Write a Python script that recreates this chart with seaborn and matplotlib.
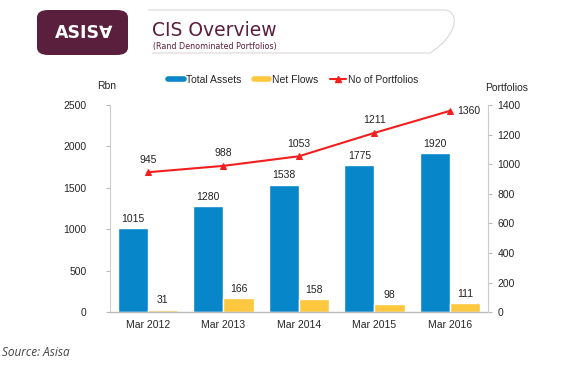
import numpy as np
import pandas as pd
import matplotlib.pyplot as plt
import seaborn as sns
from matplotlib.patches import FancyBboxPatch, PathPatch
from matplotlib.path import Path

years = ['Mar 2012', 'Mar 2013', 'Mar 2014', 'Mar 2015', 'Mar 2016']
total_assets = [1015, 1280, 1538, 1775, 1920]
net_flows = [31, 166, 158, 98, 111]
portfolios = [945, 988, 1053, 1211, 1360]

blue = '#0787c9'
yellow = '#fdc73e'
red = '#f41e1e'
maroon = '#5b1f3e'

df = pd.DataFrame({
    'year': years * 2,
    'value': total_assets + net_flows,
    'series': ['Total Assets'] * len(years) + ['Net Flows'] * len(years),
})

sns.set_style('white')
plt.rcParams['font.family'] = ['Liberation Sans', 'DejaVu Sans']

fig = plt.figure(figsize=(5.64, 3.72), dpi=100)
ax = fig.add_axes([0.195, 0.161, 0.670, 0.557])

sns.barplot(data=df, x='year', y='value', hue='series', ax=ax,
            palette=[blue, yellow], width=0.8, saturation=1, legend=False)
for cont in ax.containers:
    ax.bar_label(cont, padding=3, fontsize=7.5, color='#222222')

ax.set_ylim(0, 2500)
ax.set_yticks(range(0, 2501, 500))
ax.set_xlabel('')
ax.set_ylabel('')
ax.tick_params(axis='y', labelsize=7.5, length=3, color='#bbbbbb', pad=14)
ax.tick_params(axis='x', labelsize=7.5, length=0, pad=6)
for s in ['top', 'right']:
    ax.spines[s].set_visible(False)
ax.spines['left'].set_color('#cccccc')
ax.spines['bottom'].set_color('#bbbbbb')
ax.spines['left'].set_linewidth(0.8)
ax.spines['bottom'].set_linewidth(1.0)
ax.set_xlim(-0.5, 4.5)

ax2 = ax.twinx()
xs = np.arange(len(years))
sns.lineplot(x=xs, y=portfolios, ax=ax2, color=red, marker='^',
             markersize=5, markeredgecolor=red, linewidth=1.5)
for i, (x, v) in enumerate(zip(xs, portfolios)):
    if i == len(xs) - 1:
        ax2.annotate(str(v), (x, v), textcoords='offset points',
                     xytext=(5, 0), ha='left', va='center', fontsize=7.5,
                     color='#222222')
    else:
        ax2.annotate(str(v), (x, v), textcoords='offset points',
                     xytext=(0, 7), ha='center', fontsize=7.5,
                     color='#222222')
ax2.set_ylim(0, 1400)
ax2.set_yticks(range(0, 1401, 200))
ax2.tick_params(axis='y', labelsize=7.5, length=3, color='#bbbbbb', pad=4)
for s in ['top', 'left', 'bottom']:
    ax2.spines[s].set_visible(False)
ax2.spines['right'].set_color('#cccccc')
ax2.spines['right'].set_linewidth(0.8)
ax2.set_xlim(-0.5, 4.5)

fig.text(97 / 564, 1 - 86 / 372, 'Rbn', fontsize=7.5, va='center')
fig.text(485 / 564, 1 - 88 / 372, 'Portfolios', fontsize=7.5, va='center')

# legend
handles = [
    plt.Line2D([], [], color=blue, linewidth=4),
    plt.Line2D([], [], color=yellow, linewidth=4),
    plt.Line2D([], [], color=red, marker='^', markersize=4, linewidth=1.5),
]
fig.legend(handles, ['Total Assets', 'Net Flows', 'No of Portfolios'],
           loc='center', bbox_to_anchor=(0.52, 1 - 80 / 372), ncol=3,
           frameon=False, fontsize=7.5, handlelength=1.5, handletextpad=0.2,
           columnspacing=1.2)

# header
logo = FancyBboxPatch((37 / 564, 1 - 55 / 372), 91 / 564, 45 / 372,
                      boxstyle='round,pad=0,rounding_size=0.02',
                      transform=fig.transFigure, facecolor=maroon,
                      edgecolor='none')
fig.patches.append(logo)
fig.text(84 / 564, 1 - 33 / 372, 'ASIS\u2200', fontsize=12.5, color='white',
         fontweight='bold', ha='center', va='center',
         family=['DejaVu Sans'])

W, H = 564.0, 372.0
verts = [(148 / W, 1 - 10 / H), (445 / W, 1 - 10 / H),
         (460 / W, 1 - 12 / H), (458 / W, 1 - 35 / H), (430 / W, 1 - 53 / H),
         (152 / W, 1 - 53 / H)]
codes = [Path.MOVETO, Path.LINETO, Path.CURVE4, Path.CURVE4, Path.CURVE4,
         Path.LINETO]
fig.patches.append(PathPatch(Path(verts, codes), transform=fig.transFigure,
                             facecolor='none', edgecolor='#d8d8d8',
                             linewidth=0.8))
fig.text(152 / 564, 1 - 30 / 372, 'CIS Overview', fontsize=13.5, color=maroon,
         va='center', family=['DejaVu Sans'])
fig.text(153 / 564, 1 - 47 / 372, '(Rand Denominated Portfolios)',
         fontsize=5.8, color=maroon, va='center', family=['DejaVu Sans'])

fig.text(2 / 564, 1 - 353 / 372, 'Source: Asisa', fontsize=8.5,
         style='italic', color='#444444', va='center', family=['Open Sans'])

fig.savefig('out.png', dpi=100)
